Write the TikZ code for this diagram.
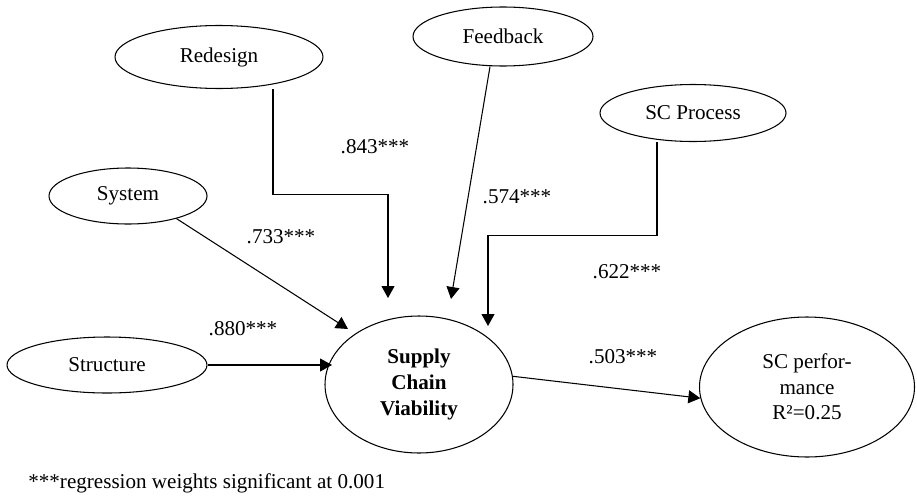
\documentclass[tikz,border=0pt]{standalone}
\usepackage{fontspec}
\setmainfont{Liberation Serif}
\usetikzlibrary{shapes.geometric,arrows.meta,positioning}
\tikzset
{
    latent/.style = {ellipse, draw=black, line width=0.6pt, inner sep=0pt, align=center, font=\fontsize{12}{14.5}\selectfont},
    arrow/.style  = {line width=0.6pt, -{Triangle[length=0.24cm, width=0.26cm]}},
    weight/.style = {inner sep=0pt, font=\fontsize{12}{14.5}\selectfont}
}

\begin{document}
\begin{tikzpicture}
   \useasboundingbox (0, 0) rectangle (18.34, 9.92);

   \node (red)  [latent, minimum width=4.16cm, minimum height=1.26cm] at (4.38, 8.78)  {Redesign};
   \node (fb)   [latent, minimum width=3.60cm, minimum height=1.18cm] at (10.06, 9.19) {Feedback};
   \node (proc) [latent, minimum width=3.72cm, minimum height=1.14cm] at (13.86, 7.66) {SC Process};
   \node (sys)  [latent, minimum width=3.16cm, minimum height=1.12cm] at (2.56, 6.00)  {System};
   \node (str)  [latent, minimum width=4.00cm, minimum height=1.12cm] at (2.14, 2.62)  {Structure};
   \node (scv)  [latent, minimum width=3.76cm, minimum height=2.74cm,
                 font=\fontsize{12}{15}\selectfont\bfseries]       at (8.38, 2.23)  {Supply\\Chain\\Viability};
   \node (perf) [latent, minimum width=4.30cm, minimum height=2.80cm] at (16.14, 2.18) {SC perfor-\\mance\\R²=0.25};

   % arrow tips that stop short of the viability ellipse
   \coordinate (tipr) at (7.76, 3.96);
   \coordinate (tipf) at (9.02, 3.94);
   \coordinate (tipp) at (9.76, 3.40);
   \coordinate (tips) at (6.96, 3.34);
   \coordinate (tipt) at (6.64, 2.62);

   \node (wred)  [weight] at (7.50, 6.98)  {.843***};
   \node (wsys)  [weight] at (5.62, 5.18)  {.733***};
   \node (wstr)  [weight] at (4.86, 3.34)  {.880***};
   \node (wfb)   [weight] at (10.34, 5.98) {.574***};
   \node (wproc) [weight] at (12.54, 4.48) {.622***};
   \node (wperf) [weight] at (12.46, 2.78) {.503***};

   \node (note) [weight, anchor=west] at (0.56, 0.26) {***regression weights significant at 0.001};

   \draw[arrow] ([xshift=1.08cm]red.south) -- ++(0, -2.11) -| (tipr);
   \draw[arrow] ([xshift=-0.72cm]proc.south) -- ++(0, -1.87) -| (tipp);
   \draw[arrow] ([xshift=-0.26cm]fb.south) -- (tipf);
   \draw[arrow] (sys.-25) -- (tips);
   \draw[arrow] (str.east) -- (tipt);
   \draw[arrow] (scv.5) -- (perf.186);
\end{tikzpicture}
\end{document}
